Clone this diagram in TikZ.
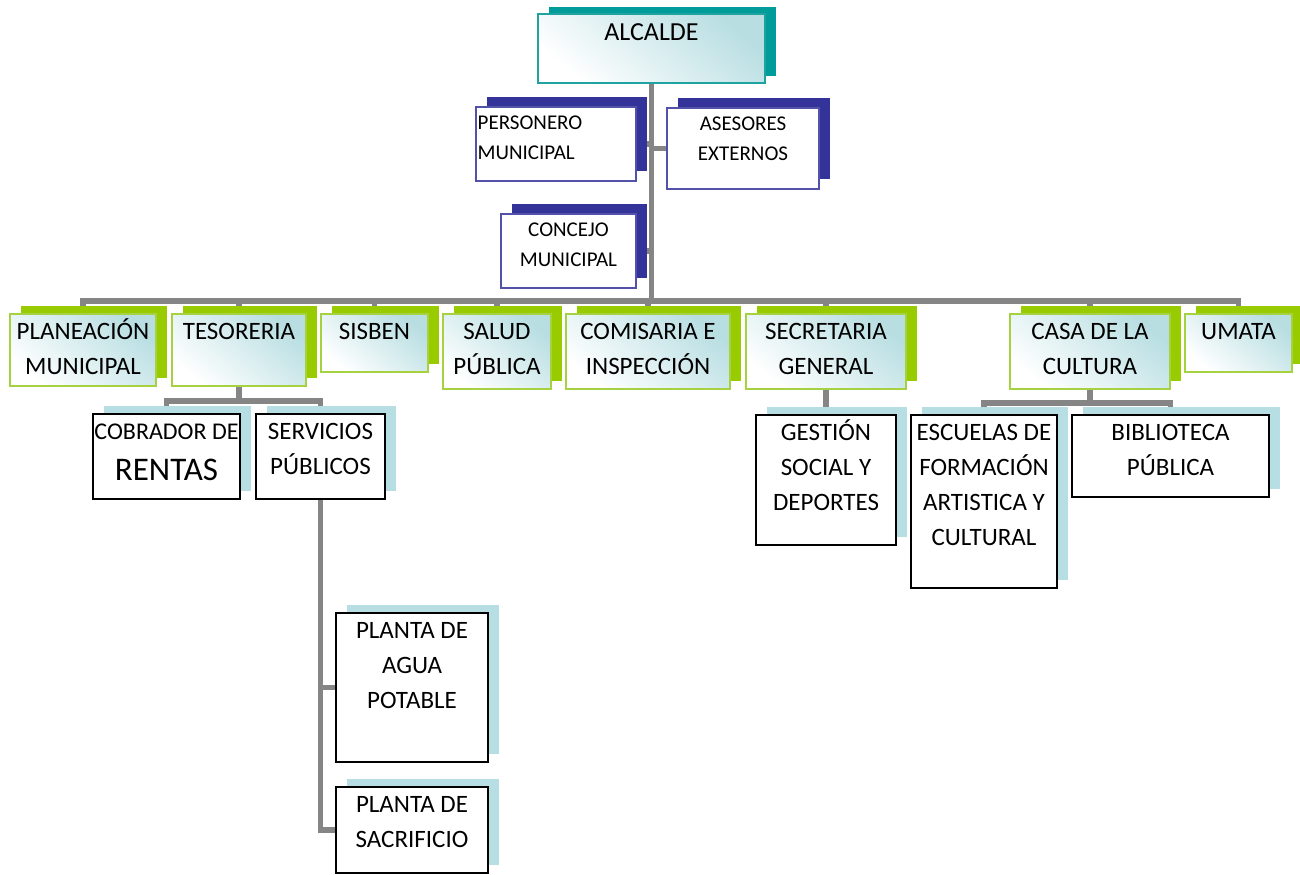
\documentclass[tikz,border=0pt]{standalone}
\usepackage{fontspec}
\setmainfont{Carlito}
\usetikzlibrary{shadows,backgrounds}

\definecolor{cTeal}{HTML}{009C9A}
\definecolor{cTealLine}{HTML}{1FA3A0}
\definecolor{cNavy}{HTML}{333399}
\definecolor{cLime}{HTML}{99CC00}
\definecolor{cLimeLine}{HTML}{A6D140}
\definecolor{cIce}{HTML}{B7DEE2}
\definecolor{cGlow}{HTML}{B8DEE2}
\definecolor{cLink}{HTML}{858585}

\newcommand{\fhead}{\fontsize{13}{16}\selectfont}
\newcommand{\fbody}{\fontsize{12.5}{17.5}\selectfont}
\newcommand{\fsmall}{\fontsize{10.5}{14.75}\selectfont}
\newcommand{\topstrut}{\rule{0pt}{0.9em}}

\begin{document}
\begin{tikzpicture}[x=0.5pt, y=-0.5pt]

	\tikzset{
		boxbase/.style={rectangle, inner sep=0pt},
		lead/.style={draw=cTealLine, line width=1pt, top color=cGlow, bottom color=white, shading angle=-40,
			general shadow={fill=cTeal, shadow xshift=5.5pt, shadow yshift=3.5pt}},
		aide/.style={draw=cNavy!85, line width=0.75pt, fill=white,
			general shadow={fill=cNavy, shadow xshift=5.5pt, shadow yshift=5pt}},
		dept/.style={draw=cLimeLine, line width=1pt, top color=cGlow, bottom color=white, shading angle=-40,
			general shadow={fill=cLime, shadow xshift=5.5pt, shadow yshift=4pt}},
		unit/.style={draw=black, line width=1pt, fill=white,
			general shadow={fill=cIce, shadow xshift=5.5pt, shadow yshift=4pt}},
		txt/.style={anchor=north, align=center, inner sep=0pt},
		link/.style={draw=cLink, line width=2.8pt, line cap=rect}
	}

	% ---------------------------
	% Helper macro: one box of the chart and its text
	% (#1 font, #2 name, #3 style, #4/#5 centre, #6/#7 size in px, #8 text)
	% ---------------------------
	\newcommand{\orgbox}[8][\fbody]{%
		\node[boxbase, #3, minimum width=#6*0.5pt, minimum height=#7*0.5pt] (#2) at (#4,#5) {};
		\node[txt, font=#1] (#2-t) at ([yshift=-2pt]#2.north) {\topstrut#8};
	}

	\useasboundingbox (0,0) rectangle (1300,874);

	% ---------------------------
	% Head and advisers
	% ---------------------------
	\orgbox[\fhead]{alc}{lead}{651.5}{48.5}{227}{69}{ALCALDE}
	\node[boxbase, aide, minimum width=80pt, minimum height=37pt] (pers) at (556,144) {};
	\node[txt, anchor=north west, align=left, font=\fsmall] (pers-t) at ([xshift=1pt,yshift=-2pt]pers.north west) {\topstrut PERSONERO\\MUNICIPAL};
	\orgbox[\fsmall]{ases}{aide}{743}{148.5}{152}{81}{ASESORES\\EXTERNOS}
	\orgbox[\fsmall]{conc}{aide}{568.5}{251}{135}{74}{CONCEJO\\MUNICIPAL}

	% ---------------------------
	% Departments
	% ---------------------------
	\orgbox{plan}{dept}{83}{350}{146}{72}{PLANEACIÓN\\MUNICIPAL}
	\orgbox{teso}{dept}{239}{350}{134}{72}{TESORERIA}
	\orgbox{sisben}{dept}{374.5}{343}{107}{58}{SISBEN}
	\orgbox{salud}{dept}{497}{351.5}{108}{75}{SALUD\\PÚBLICA}
	\orgbox{comis}{dept}{648}{351.5}{164}{75}{COMISARIA E\\INSPECCIÓN}
	\orgbox{secre}{dept}{826}{351.5}{160}{75}{SECRETARIA\\GENERAL}
	\orgbox{casa}{dept}{1090}{351.5}{160}{75}{CASA DE LA\\CULTURA}
	\orgbox{umata}{dept}{1238.5}{343}{107}{58}{UMATA}

	% ---------------------------
	% Units below the departments
	% ---------------------------
	\orgbox[\fontsize{12}{17.5}\selectfont]{cobr}{unit}{166.5}{456.5}{147}{85}{COBRADOR DE\\[3pt]{\fontsize{16.5}{19}\selectfont RENTAS}}
	\orgbox{serv}{unit}{320.5}{456.5}{129}{85}{SERVICIOS\\PÚBLICOS}
	\orgbox{agua}{unit}{412}{687.5}{152}{149}{PLANTA DE\\AGUA\\POTABLE}
	\orgbox{sacr}{unit}{412}{830}{152}{86}{PLANTA DE\\SACRIFICIO}
	\orgbox{gest}{unit}{826}{480}{140}{130}{GESTIÓN\\SOCIAL Y\\DEPORTES}
	\orgbox{escu}{unit}{984}{501.5}{146}{173}{ESCUELAS DE\\FORMACIÓN\\ARTISTICA Y\\CULTURAL}
	\orgbox{bibl}{unit}{1170.5}{456}{197}{82}{BIBLIOTECA\\PÚBLICA}

	% ---------------------------
	% Connectors (behind the boxes)
	% ---------------------------
	\coordinate (busy) at (0,301);
	\coordinate (tbusy) at (0,401);
	\coordinate (cbusy) at (0,403);
	\begin{pgfonlayer}{background}
		\draw[link] (alc.south) -- (alc.south |- busy);
		\draw[link] (pers.east) -- (pers.east -| alc.south);
		\draw[link] (ases.west) -- (ases.west -| alc.south);
		\draw[link] (conc.east) -- (conc.east -| alc.south);
		\draw[link] (plan.north |- busy) -- (umata.north |- busy);
		\foreach \n in {plan,teso,sisben,salud,comis,secre,casa,umata} {
			\draw[link] (\n.north |- busy) -- (\n.north);
		}
		\draw[link] (teso.south) -- (teso.south |- tbusy);
		\draw[link] (cobr.north) -- (cobr.north |- tbusy) -- (serv.north |- tbusy) -- (serv.north);
		\draw[link] (serv.south) |- (sacr.west);
		\draw[link] (serv.south |- agua.west) -- (agua.west);
		\draw[link] (secre.south) -- (gest.north);
		\draw[link] (casa.south) -- (casa.south |- cbusy);
		\draw[link] (escu.north) -- (escu.north |- cbusy) -- (bibl.north |- cbusy) -- (bibl.north);
	\end{pgfonlayer}

\end{tikzpicture}
\end{document}
